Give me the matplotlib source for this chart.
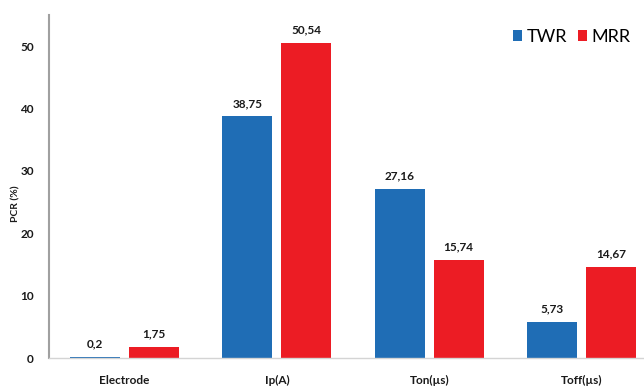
import matplotlib.pyplot as plt
import numpy as np

plt.rcParams['font.family'] = ['Lato', 'DejaVu Sans']

categories = ["Electrode", "Ip(A)", "Ton(µs)", "Toff(µs)"]
twr = [0.2, 38.75, 27.16, 5.73]
mrr = [1.75, 50.54, 15.74, 14.67]
yticks = [0, 10, 20, 30, 40, 50]

blue = "#1f6db5"
red = "#ec1c24"

fig = plt.figure(figsize=(6.44, 3.92), dpi=100)
ax = fig.add_axes([0.0761, 0.0867, 0.924, 0.875])

x = np.arange(len(categories))
w = 0.328
off = 0.1935
b1 = ax.bar(x - off, twr, w, color=blue, label="TWR")
b2 = ax.bar(x + off, mrr, w, color=red, label="MRR")

# value labels with comma decimals
for bars, vals in [(b1, twr), (b2, mrr)]:
    for rect, v in zip(bars, vals):
        ax.text(rect.get_x() + rect.get_width() / 2, v + 1.2,
                str(v).replace(".", ","), ha="center", va="bottom",
                fontsize=8.5, fontweight="bold", color="#1a1a1a")

ax.set_xlim(-0.495, 3.41)
ax.set_ylim(0, 55)
ax.set_xticks(x)
ax.set_xticklabels(categories, fontsize=8.5, fontweight="bold")
ax.set_yticks(yticks)
ax.set_yticklabels([str(t) for t in yticks], fontsize=8.5, fontweight="bold")
ax.tick_params(axis="both", length=0, colors="#1a1a1a")
ax.tick_params(axis="x", pad=12)
ax.tick_params(axis="y", pad=11)

ax.set_ylabel("PCR (%)", fontsize=7.5, fontweight="bold", color="#1a1a1a")
ax.yaxis.set_label_coords(-0.048, 0.45)

for s in ["top", "right"]:
    ax.spines[s].set_visible(False)
ax.spines["left"].set_color("#a0a0a0")
ax.spines["left"].set_linewidth(1.5)
ax.spines["bottom"].set_color("#d4d4d4")
ax.spines["bottom"].set_linewidth(1)

ax.legend(loc="upper right", bbox_to_anchor=(0.99, 0.945), bbox_transform=fig.transFigure,
          ncol=2, frameon=False, fontsize=13, handlelength=0.5, handleheight=0.5,
          handletextpad=0.25, columnspacing=0.6, borderaxespad=0)

fig.savefig("out.png", dpi=100)
